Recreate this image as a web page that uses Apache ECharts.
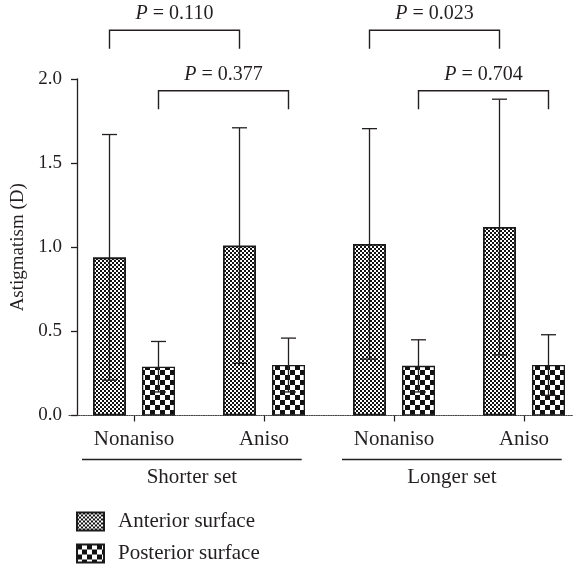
<!DOCTYPE html>
<html>
<head>
<meta charset="utf-8">
<script src="https://cdn.jsdelivr.net/npm/echarts@6/dist/echarts.min.js"></script>
<style>
html,body{margin:0;padding:0;background:#fff;}
#chart{width:573px;height:567px;}
</style>
</head>
<body>
<div id="chart"></div>
<script>
// ---- data ----
const categories = ['Nonaniso', 'Aniso', 'Nonaniso', 'Aniso'];
const groupLabels = ['Shorter set', 'Longer set'];
const groupStartCat = [0, 2];
const groupEndCat = [1, 3];
const seriesNames = ['Anterior surface', 'Posterior surface'];
const anteriorMean = [0.94, 1.01, 1.02, 1.12];
const anteriorSD = [0.73, 0.70, 0.685, 0.76];
const posteriorMean = [0.29, 0.30, 0.295, 0.30];
const posteriorSD = [0.15, 0.16, 0.155, 0.18];
const pLabels = ['0.110', '0.377', '0.023', '0.704'];
const pFromCat = [0, 0, 2, 2];
const pToCat = [1, 1, 3, 3];
const pSeries = [0, 1, 0, 1];
const pLevel = [2.29, 1.93, 2.29, 1.93];
const yTicks = [0, 0.5, 1.0, 1.5, 2.0];

// ---- styling ----
const FONT = 'Liberation Serif';
const INK = '#231f20';
const BAR_W = 33;
const BAR_GAP = 16;
const HALF = (BAR_W + BAR_GAP) / 2;
const WORD_SIZE = 21;
const NUM_SIZE = 19;

function makePattern(cell, tile, dark) {
  const c = document.createElement('canvas');
  c.width = c.height = tile;
  const ctx = c.getContext('2d');
  ctx.fillStyle = dark ? '#111111' : '#ffffff';
  ctx.fillRect(0, 0, tile, tile);
  ctx.fillStyle = dark ? '#ffffff' : '#111111';
  const h = tile / 2;
  ctx.fillRect(0, 0, cell, cell);
  ctx.fillRect(h, h, cell, cell);
  return c;
}
const fineFill = { image: makePattern(2, 4, true), repeat: 'repeat' };
const coarseFill = { image: makePattern(5, 10, false), repeat: 'repeat' };

const chart = echarts.init(document.getElementById('chart'), null, { renderer: 'canvas' });

function errorSeries(means, sds, sign) {
  return {
    type: 'custom',
    clip: false,
    z: 5,
    silent: true,
    data: means.map((m, i) => [i, m, sds[i]]),
    renderItem: function (params, api) {
      const i = api.value(0), m = api.value(1), sd = api.value(2);
      const top = api.coord([i, m + sd]);
      const bot = api.coord([i, m - sd]);
      const x = top[0] + sign * HALF;
      const cap = 7.5;
      const st = { stroke: INK, lineWidth: 1.3 };
      return {
        type: 'group',
        children: [
          { type: 'line', shape: { x1: x, y1: top[1], x2: x, y2: bot[1] }, style: st },
          { type: 'line', shape: { x1: x - cap, y1: top[1], x2: x + cap, y2: top[1] }, style: st },
          { type: 'line', shape: { x1: x - cap, y1: bot[1], x2: x + cap, y2: bot[1] }, style: st }
        ]
      };
    }
  };
}

const bracketSeries = {
  type: 'custom',
  clip: false,
  z: 6,
  silent: true,
  data: pLabels.map((p, i) => [pFromCat[i], pToCat[i], pLevel[i], pSeries[i], i]),
  renderItem: function (params, api) {
    const a = api.value(0), b = api.value(1), lv = api.value(2), s = api.value(3);
    const idx = api.value(4);
    const off = s === 0 ? -HALF : HALF;
    const p1 = api.coord([a, lv]);
    const p2 = api.coord([b, lv]);
    const x1 = p1[0] + off, x2 = p2[0] + off, y = p1[1];
    const leg = 18.5;
    const st = { stroke: INK, lineWidth: 1.4, fill: null };
    return {
      type: 'group',
      children: [
        { type: 'polyline', shape: { points: [[x1, y + leg], [x1, y], [x2, y], [x2, y + leg]] }, style: st },
        {
          type: 'text',
          x: (x1 + x2) / 2, y: y - 16,
          style: {
            text: '{i|P} = ' + pLabels[idx],
            rich: { i: { fontStyle: 'italic', fontFamily: FONT, fontSize: 20, fill: INK } },
            fontFamily: FONT, fontSize: 20, fill: INK,
            align: 'center', verticalAlign: 'middle'
          }
        }
      ]
    };
  }
};

const groupSeries = {
  type: 'custom',
  clip: false,
  z: 6,
  silent: true,
  data: groupLabels.map((g, i) => [groupStartCat[i], groupEndCat[i], i]),
  renderItem: function (params, api) {
    const a = api.value(0), b = api.value(1), idx = api.value(2);
    const band = api.size([1, 0])[0];
    const pa = api.coord([a, 0]);
    const pb = api.coord([b, 0]);
    const x1 = pa[0] - 0.40 * band, x2 = pb[0] + 0.29 * band;
    const y = pa[1] + 44;
    return {
      type: 'group',
      children: [
        { type: 'line', shape: { x1: x1, y1: y, x2: x2, y2: y }, style: { stroke: INK, lineWidth: 1.5 } },
        {
          type: 'text', x: (x1 + x2) / 2, y: y + 18,
          style: { text: groupLabels[idx], fontFamily: FONT, fontSize: WORD_SIZE, fill: INK, align: 'center', verticalAlign: 'middle' }
        }
      ]
    };
  }
};

const option = {
  backgroundColor: '#ffffff',
  animation: false,
  textStyle: { fontFamily: FONT, color: INK },
  grid: { left: 69, width: 520, top: 79, height: 336.5, containLabel: false, outerBoundsMode: 'none' },
  legend: {
    orient: 'vertical',
    left: 76,
    top: 511,
    height: 100,
    padding: 0,
    itemWidth: 27,
    itemHeight: 18,
    itemGap: 11,
    icon: 'rect',
    data: seriesNames,
    textStyle: { fontFamily: FONT, fontSize: WORD_SIZE, color: INK, padding: [0, 0, 0, 9] }
  },
  xAxis: {
    type: 'category',
    data: categories,
    boundaryGap: true,
    axisLine: { show: true, lineStyle: { color: '#444', width: 1.2, type: 'dotted' } },
    axisTick: { show: true, alignWithLabel: true, length: 6, lineStyle: { color: INK, width: 1.2 } },
    axisLabel: { fontFamily: FONT, fontSize: WORD_SIZE, color: INK, margin: 13, interval: 0 },
    splitLine: { show: false }
  },
  yAxis: {
    type: 'value',
    min: 0,
    max: 2,
    interval: 0.5,
    offset: -8,
    name: 'Astigmatism (D)',
    nameLocation: 'middle',
    nameGap: 46,
    nameTextStyle: { fontFamily: FONT, fontSize: NUM_SIZE, color: INK },
    axisLine: { show: true, lineStyle: { color: INK, width: 1.3 } },
    axisTick: { show: true, length: 6, lineStyle: { color: INK, width: 1.3 } },
    axisLabel: {
      fontFamily: FONT, fontSize: NUM_SIZE, color: INK, margin: 15,
      formatter: function (v) { return yTicks.indexOf(v) >= 0 ? v.toFixed(1) : ''; }
    },
    splitLine: { show: false }
  },
  series: [
    {
      name: seriesNames[0],
      type: 'bar',
      data: anteriorMean,
      barWidth: BAR_W,
      barGap: (BAR_GAP / BAR_W * 100) + '%',
      itemStyle: { color: fineFill, borderColor: '#1a1a1a', borderWidth: 1.8 }
    },
    {
      name: seriesNames[1],
      type: 'bar',
      data: posteriorMean,
      barWidth: BAR_W,
      barGap: (BAR_GAP / BAR_W * 100) + '%',
      itemStyle: { color: coarseFill, borderColor: '#1a1a1a', borderWidth: 1.3 }
    },
    errorSeries(anteriorMean, anteriorSD, -1),
    errorSeries(posteriorMean, posteriorSD, 1),
    bracketSeries,
    groupSeries
  ]
};
chart.setOption(option);
</script>
</body>
</html>
